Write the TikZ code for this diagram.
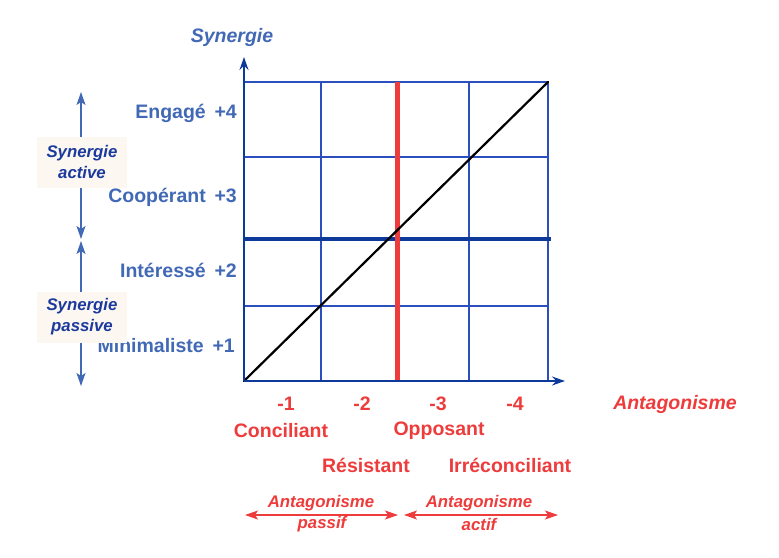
\documentclass[tikz,border=0pt]{standalone}
\usepackage{fontspec}
\setmainfont{Liberation Sans}
\usetikzlibrary{arrows.meta}
\definecolor{lblue}{HTML}{4169B5}
\definecolor{gblue}{HTML}{2B4FBF}
\definecolor{dblue}{HTML}{0D3A9A}
\definecolor{nblue}{HTML}{1C3A9C}
\definecolor{ared}{HTML}{EE3B3B}
\definecolor{boxfill}{HTML}{FCF7F1}
\tikzset{
  ylab/.style={anchor=east, text=lblue, font=\fontsize{19.5}{21}\selectfont\bfseries, inner sep=0pt},
  xlab/.style={text=ared, font=\fontsize{19.5}{21}\selectfont\bfseries, inner sep=0pt},
  smallit/.style={font=\fontsize{16.8}{21}\selectfont\bfseries\itshape, inner sep=0pt, align=center},
  sbox/.style={smallit, text=nblue, fill=boxfill, minimum width=90pt, minimum height=51pt},
  gridline/.style={gblue, line width=1.2pt},
  sidearrow/.style={lblue, line width=1.4pt, {Stealth[length=13pt,width=9pt,inset=3pt]}-{Stealth[length=13pt,width=9pt,inset=3pt]}},
  redarrow/.style={ared, line width=1.4pt, {Stealth[length=13pt,width=9pt,inset=3pt]}-{Stealth[length=13pt,width=9pt,inset=3pt]}},
  axis/.style={dblue, line width=1.8pt, -{Stealth[length=13pt,width=9pt]}},
}
\begin{document}
\begin{tikzpicture}[x=1pt,y=-1pt]
\path[use as bounding box, fill=white] (0,0) rectangle (779,557);
% grid coordinates
\coordinate (c00) at (244,381);
\coordinate (c11) at (548,82);
\foreach \x in {244,321,397,469,548} {\draw[gridline] (\x,82) -- (\x,381);}
\foreach \y in {82,157,306,381} {\draw[gridline] (244,\y) -- (548,\y);}
% thick lines
\coordinate (hb1) at (244,239);
\coordinate (hb2) at (551,239);
\draw[dblue, line width=4pt] (hb1) -- (hb2);
\coordinate (vr1) at (397,82);
\coordinate (vr2) at (397,381);
\draw[ared, line width=5pt] (vr1) -- (vr2);
% diagonal
\draw[black, line width=2.2pt, line cap=round] (c00) -- (c11);
% axes
\coordinate (ytip) at (244,57);
\coordinate (xtip) at (565,381);
\draw[axis] (c00) -- (ytip);
\draw[axis] (c00) -- (xtip);
% titles
\node[smallit, font=\fontsize{19.5}{21}\selectfont\bfseries\itshape, text=lblue] (syn) at (232,37) {Synergie};
\node[smallit, font=\fontsize{19.5}{21}\selectfont\bfseries\itshape, text=ared] (ant) at (675,404) {Antagonisme};
% y labels
\node[ylab] (l4) at (237,113) {Engagé\hspace{0.45em}+4};
\node[ylab] (l3) at (237,197) {Coopérant\hspace{0.45em}+3};
\node[ylab] (l2) at (237,270) {Intéressé\hspace{0.45em}+2};
\node[ylab] (l1) at (235,346) {Minimaliste\hspace{0.45em}+1};
% side arrows and boxes
\coordinate (a1t) at (81,92);
\coordinate (a1b) at (81,239);
\coordinate (a2t) at (81,241);
\coordinate (a2b) at (81,386);
\draw[sidearrow] (a1t) -- (a1b);
\draw[sidearrow] (a2t) -- (a2b);
\node[sbox] (bact) at (82,162) {Synergie\\active};
\node[sbox] (bpas) at (82,317) {Synergie\\passive};
% x labels
\node[xlab] (m1) at (286,404) {-1};
\node[xlab] (m2) at (362,404) {-2};
\node[xlab] (m3) at (438,404) {-3};
\node[xlab] (m4) at (515,404) {-4};
\node[xlab] (conc) at (281,431) {Conciliant};
\node[xlab] (opp) at (439,431) {Opposant};
\node[xlab] (res) at (366,465) {Résistant};
\node[xlab] (irr) at (510,465) {Irréconciliant};
% bottom arrows
\coordinate (p1) at (245,515);
\coordinate (p2) at (398,515);
\coordinate (q1) at (404,515);
\coordinate (q2) at (558,515);
\draw[redarrow] (p1) -- (p2);
\draw[redarrow] (q1) -- (q2);
\node[smallit, text=ared] (apass) at (321,503) {Antagonisme};
\node[smallit, text=ared] (pass) at (322,524) {passif};
\node[smallit, text=ared] (aact) at (479,503) {Antagonisme};
\node[smallit, text=ared] (act) at (479,524) {actif};
\end{tikzpicture}
\end{document}
